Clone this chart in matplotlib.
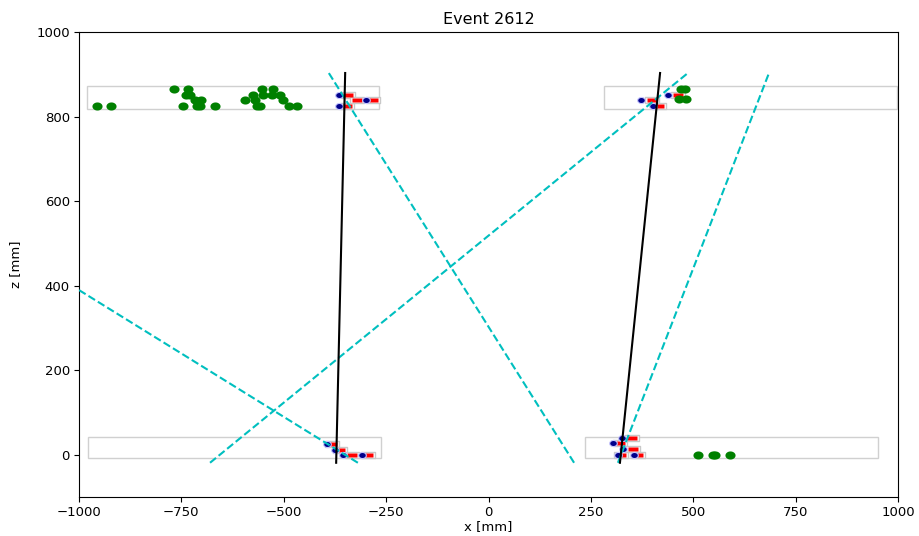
import matplotlib
matplotlib.use("Agg")
import matplotlib.pyplot as plt
from matplotlib.patches import Rectangle
import numpy as np

# ---------------- data ----------------
title = "Event 2612"

# detector station boxes: (x_min, x_max, z_min, z_max)
box_xmin = [-980, 282, -978, 236]
box_xmax = [-267, 997, -263, 951]
box_zmin = [818, 818, -7, -7]
box_zmax = [872, 872, 42, 42]

# reconstructed tracks (black), endpoints at z_lo / z_hi
track_z = [-19, 903]
track_x_lo = [-372, 321]
track_x_hi = [-350, 419]

# candidate lines (cyan dashed)
cand_x_lo = [209, -319, -680, 316]
cand_x_hi = [-390, -1856, 487, 685]

# hits
blue_x = [-365, -365, -298, 372, 402, 438, -394, -375, -355, -309, 326, 304, 328, 316, 355]
blue_z = [851, 826, 839, 839, 825, 851, 26, 12, 0, 0, 40, 28, 13, 0, 0]
red_x = [-343, -345, -320, -283, 399, 416, 463, -382, -363, -333, -294, 350, 322, 353, 323, 365]
red_z = [851, 826, 839, 839, 839, 825, 851, 26, 12, 0, 0, 40, 28, 13, 0, 0]

green_x = [-956, -922, -746, -712, -705, -668, -565, -558, -487, -468,
           -717, -702, -595, -570, -502,
           -739, -729, -575, -551, -529, -509,
           -768, -734, -553, -526,
           470, 480, 465, 482,
           512, 548, 552, 590]
green_z = [825, 825, 825, 825, 825, 825, 825, 825, 825, 825,
           839, 839, 839, 839, 839,
           851, 851, 851, 851, 851, 851,
           865, 865, 865, 865,
           865, 865, 842, 842,
           0, 0, 0, 0]

# ---------------- plot ----------------
fig = plt.figure(figsize=(9.19, 5.36), dpi=100)
ax = fig.add_axes([79 / 919, 1 - 497 / 536, 819 / 919, 465 / 536])

for x0, x1, z0, z1 in zip(box_xmin, box_xmax, box_zmin, box_zmax):
    ax.add_patch(Rectangle((x0, z0), x1 - x0, z1 - z0, fill=False,
                           edgecolor="#d0d0d0", lw=1.0, zorder=1))

rect_wide = [(-1.5, -0.6), (1.5, -0.6), (1.5, 0.6), (-1.5, 0.6), (-1.5, -0.6)]
rect_mid = [(-1.0, -0.42), (1.0, -0.42), (1.0, 0.42), (-1.0, 0.42), (-1.0, -0.42)]
t = np.linspace(0, 2 * np.pi, 40)
ell = list(zip(np.cos(t), 0.8 * np.sin(t)))

# gray halo outlines
ax.plot(red_x, red_z, ls="none", marker=rect_wide, ms=9.5, mfc="white",
        mec="#c8c8c8", mew=1.0, zorder=2)
ax.plot(red_x, red_z, ls="none", marker=rect_mid, ms=7.5, color="red",
        mec="none", zorder=3)
ax.plot(blue_x, blue_z, ls="none", marker=ell, ms=5.5, color="darkblue",
        mec="#c8c8ff", mew=0.8, zorder=4)
ax.plot(green_x, green_z, ls="none", marker=ell, ms=7.3, color="green",
        mec="none", zorder=3)

for xl, xh in zip(cand_x_lo, cand_x_hi):
    ax.plot([xl, xh], track_z, ls="--", color="c", lw=1.5, zorder=5)
for xl, xh in zip(track_x_lo, track_x_hi):
    ax.plot([xl, xh], track_z, color="black", lw=1.5, zorder=6)

ax.set_xlim(-1000, 1000)
ax.set_ylim(-100, 1000)
ax.tick_params(labelsize=9.5, pad=3)
ax.set_xlabel("x [mm]", fontsize=9.5, labelpad=1)
ax.set_ylabel("z [mm]", fontsize=9.5, labelpad=10)
ax.set_title(title, fontsize=11.5, pad=6)

fig.savefig("out.png", dpi=100)
